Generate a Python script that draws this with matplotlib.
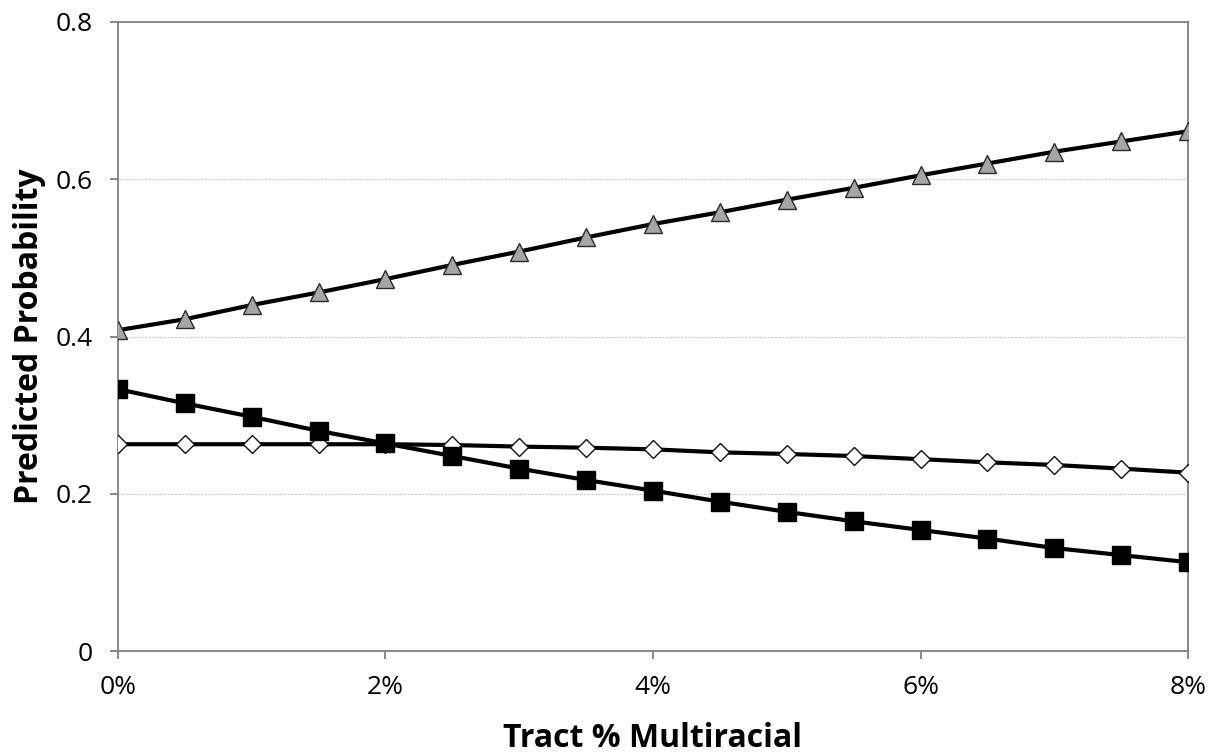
import matplotlib
matplotlib.use("Agg")
import matplotlib.pyplot as plt
from matplotlib.ticker import FuncFormatter

plt.rcParams['font.family'] = ['Open Sans', 'DejaVu Sans']

x_pct = [0, 0.5, 1, 1.5, 2, 2.5, 3, 3.5, 4, 4.5, 5, 5.5, 6, 6.5, 7, 7.5, 8]
triangle_vals = [0.408, 0.422, 0.440, 0.456, 0.473, 0.491, 0.508, 0.526, 0.543,
                 0.558, 0.574, 0.589, 0.605, 0.620, 0.635, 0.648, 0.661]
square_vals = [0.333, 0.315, 0.298, 0.280, 0.264, 0.248, 0.232, 0.2175, 0.204,
               0.190, 0.177, 0.165, 0.154, 0.143, 0.131, 0.122, 0.113]
diamond_vals = [0.263, 0.263, 0.263, 0.263, 0.263, 0.262, 0.260, 0.2586, 0.2565,
                0.2527, 0.2506, 0.248, 0.244, 0.240, 0.2366, 0.232, 0.2268]
y_ticks = [0, 0.2, 0.4, 0.6, 0.8]
y_tick_labels = ['0', '0.2', '0.4', '0.6', '0.8']
x_ticks = [0, 2, 4, 6, 8]

fig = plt.figure(figsize=(12.21, 7.55), dpi=100)
ax = fig.add_axes([0.0966, 0.1377, 0.8764, 0.8332])

spine_col = '#7f7f7f'
ax.grid(axis='y', color='#d0d0d0', linestyle=(0, (2, 1)), linewidth=0.9)
ax.set_axisbelow(True)

ax.plot(x_pct, diamond_vals, color='black', linewidth=3.0, marker='D', markersize=9,
        markerfacecolor='white', markeredgecolor='#111111', markeredgewidth=1.0, zorder=3)
ax.plot(x_pct, square_vals, color='black', linewidth=3.0, marker='s', markersize=12.5,
        markerfacecolor='black', markeredgecolor='black', markeredgewidth=1.0, zorder=4)
ax.plot(x_pct, triangle_vals, color='black', linewidth=3.0, marker='^', markersize=13,
        markerfacecolor='#a6a6a6', markeredgecolor='#2a2a2a', markeredgewidth=1.0, zorder=5)

ax.set_xlim(0, 8)
ax.set_ylim(0, 0.8)
ax.set_yticks(y_ticks)
ax.set_yticklabels(y_tick_labels)
ax.set_xticks(x_ticks)
ax.xaxis.set_major_formatter(FuncFormatter(lambda v, p: f"{int(round(v))}%"))

for s in ax.spines.values():
    s.set_color(spine_col)
    s.set_linewidth(1.3)

ax.tick_params(axis='both', direction='out', length=6, width=1.3, color=spine_col,
               labelsize=19, labelcolor='black')
ax.tick_params(axis='y', pad=12)
ax.tick_params(axis='x', pad=11)

ax.set_ylabel('Predicted Probability', fontsize=23, fontweight='bold', labelpad=7)
ax.set_xlabel('Tract % Multiracial', fontsize=23, fontweight='bold', labelpad=16)

fig.savefig('out.png', dpi=100)
